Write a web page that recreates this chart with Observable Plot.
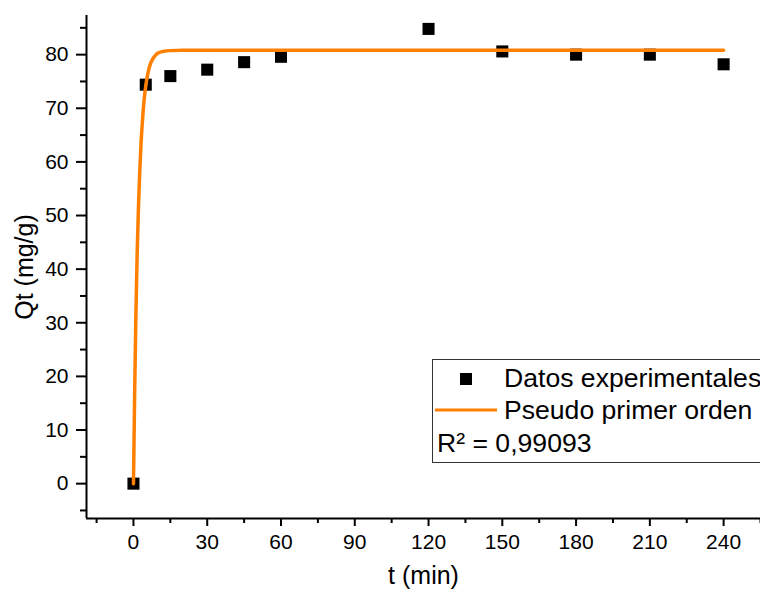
<!DOCTYPE html>
<html>
<head>
<meta charset="utf-8">
<script src="https://cdn.jsdelivr.net/npm/d3@7"></script>
<script src="https://cdn.jsdelivr.net/npm/@observablehq/plot@0.6"></script>
<style>
  html, body { margin: 0; padding: 0; background: #fff; }
  #wrap { position: relative; width: 760px; height: 597px; overflow: hidden; font-family: "Liberation Sans", Arial, sans-serif; }
  #legend { position: absolute; left: 0; top: 0; }
</style>
</head>
<body>
<div id="wrap"></div>
<script>
// Experimental data
const tExp = [0, 5, 15, 30, 45, 60, 120, 150, 180, 210, 240];
const qExp = [0, 74.4, 76.0, 77.2, 78.6, 79.6, 84.8, 80.6, 80.0, 80.0, 78.2];

// Pseudo-first-order fitted curve
const tFit = [0, 0.5, 1, 1.5, 2, 2.5, 3, 3.5, 4, 5, 6, 7, 8, 9, 10, 12, 15, 20, 30, 60, 120, 180, 240];
const qFit = [0, 17.5, 31.8, 42.8, 51.1, 57.5, 62.8, 66.6, 69.9, 74.2, 76.8, 78.4, 79.3, 79.9, 80.3, 80.6, 80.75, 80.8, 80.8, 80.8, 80.8, 80.8, 80.8];

// Axis ticks
const xMajor = [0, 30, 60, 90, 120, 150, 180, 210, 240];
const xMinor = [-15, 15, 45, 75, 105, 135, 165, 195, 225, 255];
const yMajor = [0, 10, 20, 30, 40, 50, 60, 70, 80];
const yMinor = [-5, 5, 15, 25, 35, 45, 55, 65, 75, 85];
const xDomain = [-19.1, 255];
const yDomain = [-6.5, 87.3];

// Legend
const legendLabels = ["Datos experimentales", "Pseudo primer orden", "R² = 0,99093"];
const xTitle = ["t (min)"];
const yTitle = ["Qt (mg/g)"];

const orange = "#ff7f00";
const expData = tExp.map((t, i) => ({t, q: qExp[i]}));
const fitData = tFit.map((t, i) => ({t, q: qFit[i]}));

const chart = Plot.plot({
  width: 760,
  height: 597,
  marginLeft: 86,
  marginRight: 0,
  marginTop: 15,
  marginBottom: 79,
  style: { fontFamily: "'Liberation Sans', Arial, sans-serif", background: "#fff", color: "#000", overflow: "visible" },
  x: { domain: xDomain },
  y: { domain: yDomain },
  marks: [
    Plot.axisX({ ticks: xMinor, tickSize: 5, strokeWidth: 2, text: null, label: null }),
    Plot.axisX({ ticks: xMajor, tickSize: 8, strokeWidth: 2, tickPadding: 8, fontSize: 21, label: null, fill: "#000" }),
    Plot.axisY({ ticks: yMinor, tickSize: 6, strokeWidth: 2, text: null, label: null }),
    Plot.axisY({ ticks: yMajor, tickSize: 10, strokeWidth: 2, tickPadding: 8, fontSize: 21, label: null, fill: "#000" }),
    Plot.ruleY([yDomain[0]], { stroke: "#000", strokeWidth: 2 }),
    Plot.ruleX([xDomain[0]], { stroke: "#000", strokeWidth: 2 }),
    Plot.dot(expData, { x: "t", y: "q", symbol: "square", r: 6.8, fill: "#000", stroke: null }),
    Plot.line(fitData, { x: "t", y: "q", stroke: orange, strokeWidth: 3.5, curve: "monotone-x" }),
    Plot.text(xTitle, { frameAnchor: "bottom", dy: 65, fontSize: 25, fill: "#000" }),
    Plot.text(yTitle, { frameAnchor: "left", textAnchor: "middle", dx: -62, rotate: -90, fontSize: 25, fill: "#000" })
  ]
});
document.getElementById("wrap").appendChild(chart);

// Legend overlay
const svg = d3.select("#wrap").append("svg")
  .attr("id", "legend")
  .attr("width", 760).attr("height", 597)
  .style("font-family", "'Liberation Sans', Arial, sans-serif");
svg.append("rect")
  .attr("x", 432.5).attr("y", 359.5).attr("width", 340).attr("height", 103)
  .attr("fill", "#fff").attr("stroke", "#333").attr("stroke-width", 1);
svg.append("rect").attr("x", 460).attr("y", 373).attr("width", 12).attr("height", 12).attr("fill", "#000");
svg.append("line").attr("x1", 435).attr("x2", 497).attr("y1", 410).attr("y2", 410)
  .attr("stroke", orange).attr("stroke-width", 3);
const rows = [{x: 504, y: 387}, {x: 504, y: 419}, {x: 437, y: 452}];
legendLabels.forEach((s, i) => {
  svg.append("text").attr("x", rows[i].x).attr("y", rows[i].y)
    .attr("font-size", 26.6).attr("fill", "#000").text(s);
});
</script>
</body>
</html>
